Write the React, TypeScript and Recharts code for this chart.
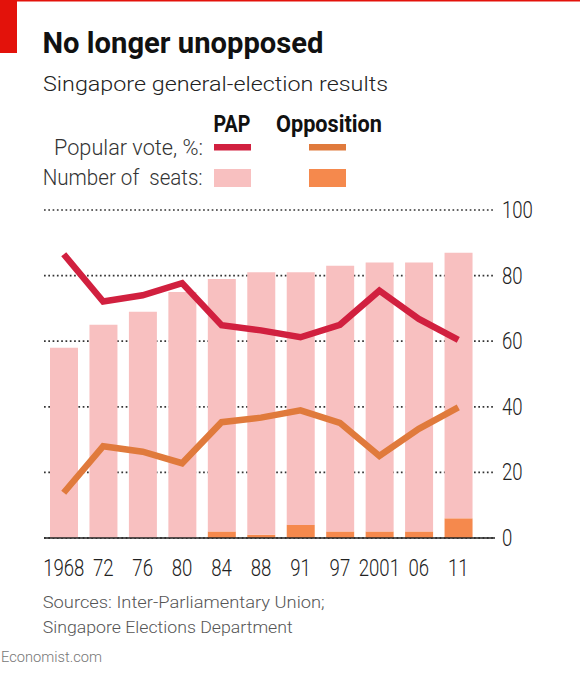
import React from 'react';
import { ComposedChart, Bar, Line, XAxis, YAxis, CartesianGrid } from 'recharts';

const years = ['1968', '72', '76', '80', '84', '88', '91', '97', '2001', '06', '11'];
const papVote = [86.5, 72.1, 74.0, 77.7, 64.9, 63.3, 61.2, 65.0, 75.4, 66.8, 60.4];
const oppVote = [13.8, 28.0, 26.3, 22.8, 35.3, 36.7, 38.9, 35.1, 25.0, 33.3, 39.8];
const papSeats = [58, 65, 69, 75, 77, 80, 77, 81, 82, 82, 81];
const oppSeats = [0, 0, 0, 0, 2, 1, 4, 2, 2, 2, 6];
const yTicks = [0, 20, 40, 60, 80, 100];

const data = years.map((year, i) => ({
  year,
  papVote: papVote[i],
  oppVote: oppVote[i],
  papSeats: papSeats[i],
  oppSeats: oppSeats[i],
}));

const FONT = "Roboto, 'Liberation Sans', sans-serif";
const PAP_LINE = '#d1203f';
const OPP_LINE = '#e07a3c';
const PAP_BAR = '#f8c0c0';
const OPP_BAR = '#f5894d';
const RED = '#e3120b';
const DIGIT_W = 10.3;

type TxtProps = {
  x: number;
  y: number;
  w: number;
  size: number;
  weight?: number;
  fill?: string;
  anchor?: 'start' | 'middle' | 'end';
  children: React.ReactNode;
};

function Txt({ x, y, w, size, weight = 300, fill = '#222', anchor = 'start', children }: TxtProps) {
  return (
    <text
      x={x}
      y={y}
      fontFamily={FONT}
      fontSize={size}
      fontWeight={weight}
      fill={fill}
      textAnchor={anchor}
      textLength={w}
      lengthAdjust="spacingAndGlyphs"
      style={{ whiteSpace: 'pre' }}
    >
      {children}
    </text>
  );
}

function XTick(props: any) {
  const { x, y, payload } = props;
  const label = String(payload.value);
  return (
    <Txt x={x} y={y + 37.5} w={label.length * DIGIT_W} size={23} fill="#222" anchor="middle">
      {label}
    </Txt>
  );
}

function YTick(props: any) {
  const { x, y, payload } = props;
  const label = String(payload.value);
  return (
    <Txt x={x + 7} y={y + 8} w={label.length * DIGIT_W} size={23} fill="#222" anchor="start">
      {label}
    </Txt>
  );
}

export default function App() {
  return (
    <div style={{ position: 'absolute', left: 0, top: 0, width: 580, height: 678, background: '#fff' }}>
      <div style={{ position: 'absolute', left: 0, top: 0 }}>
        <ComposedChart
          width={580}
          height={678}
          data={data}
          margin={{ top: 210, right: 25, left: 44, bottom: 110 }}
        >
          <CartesianGrid
            vertical={false}
            stroke="#333"
            strokeWidth={1.7}
            strokeDasharray="1.7 2.6"
          />
          <XAxis
            dataKey="year"
            height={30}
            padding={{ left: 0, right: 17 }}
            axisLine={{ stroke: '#222', strokeWidth: 1.5 }}
            tickLine={false}
            tickSize={0}
            tickMargin={0}
            interval={0}
            tick={<XTick />}
          />
          <YAxis
            orientation="right"
            width={60}
            domain={[0, 100]}
            ticks={yTicks}
            axisLine={false}
            tickLine={false}
            tickSize={0}
            tickMargin={0}
            tick={<YTick />}
          />
          <Bar dataKey="oppSeats" stackId="s" fill={OPP_BAR} barSize={28} isAnimationActive={false} />
          <Bar dataKey="papSeats" stackId="s" fill={PAP_BAR} barSize={28} isAnimationActive={false} />
          <Line
            dataKey="papVote"
            type="linear"
            stroke={PAP_LINE}
            strokeWidth={6.5}
            dot={false}
            activeDot={false}
            isAnimationActive={false}
          />
          <Line
            dataKey="oppVote"
            type="linear"
            stroke={OPP_LINE}
            strokeWidth={6.5}
            dot={false}
            activeDot={false}
            isAnimationActive={false}
          />
        </ComposedChart>
      </div>
      <svg
        width={580}
        height={678}
        style={{ position: 'absolute', left: 0, top: 0, pointerEvents: 'none' }}
      >
        <rect x={0} y={0} width={580} height={1.5} fill={RED} />
        <rect x={0} y={0} width={17} height={53} fill={RED} />
        <Txt x={42.5} y={53} w={281} size={29.5} weight={700} fill="#111">No longer unopposed</Txt>
        <Txt x={43} y={91} w={345} size={21} fill="#222">Singapore general-election results</Txt>
        <Txt x={213.5} y={132} w={37} size={23.5} weight={700} fill="#111">PAP</Txt>
        <Txt x={276} y={132} w={106} size={23.5} weight={700} fill="#111">Opposition</Txt>
        <Txt x={54} y={155} w={149} size={22} fill="#333">Popular vote, %:</Txt>
        <Txt x={42.7} y={184.5} w={160} size={22} fill="#333">{'Number of  seats:'}</Txt>
        <rect x={214} y={144} width={37} height={6.5} fill={PAP_LINE} />
        <rect x={309} y={144} width={37} height={6.5} fill={OPP_LINE} />
        <rect x={214} y={169} width={37} height={18} fill={PAP_BAR} />
        <rect x={309} y={169} width={37} height={18} fill={OPP_BAR} />
        <Txt x={42.7} y={608} w={282} size={17.3} fill="#555">Sources: Inter-Parliamentary Union;</Txt>
        <Txt x={42.7} y={632.5} w={250} size={17.3} fill="#555">Singapore Elections Department</Txt>
        <Txt x={1} y={661.5} w={101} size={14.5} fill="#777">Economist.com</Txt>
      </svg>
    </div>
  );
}
